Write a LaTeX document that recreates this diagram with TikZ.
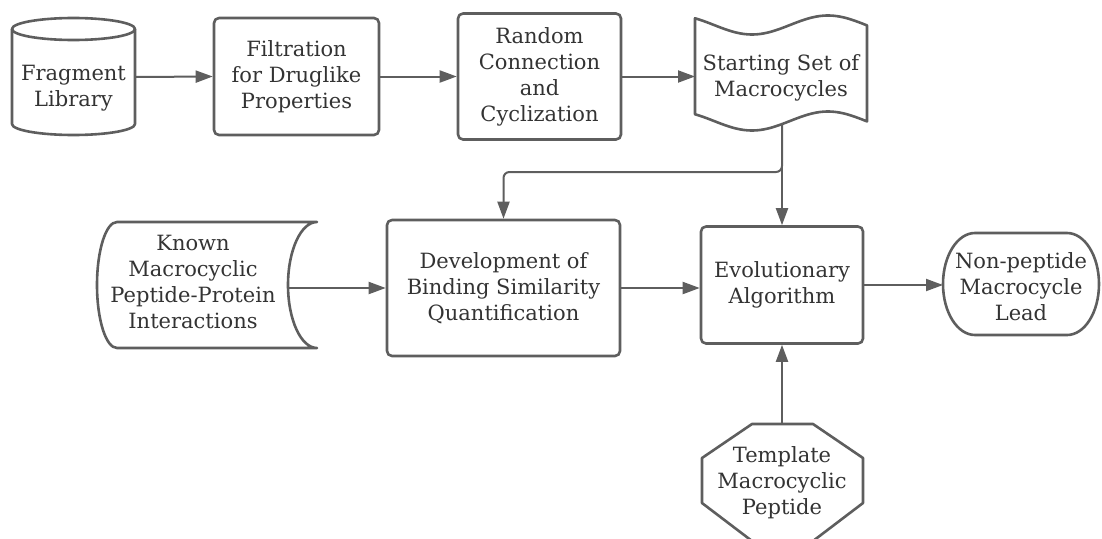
\documentclass[tikz,border=0pt]{standalone}
\usepackage{fontspec}
\setmainfont{DejaVu Serif}
\usetikzlibrary{arrows.meta,calc}
\definecolor{ln}{HTML}{5E5E5E}
\definecolor{tx}{HTML}{333333}
\begin{document}
\begin{tikzpicture}[x=1pt,y=-1pt,
 shp/.style={draw=ln, line width=2.6pt, line join=round},
 box/.style={shp, rounded corners=5pt, inner sep=0pt},
 lbl/.style={text=tx, align=center, font=\fontsize{21}{26}\selectfont},
 conn/.style={draw=ln, line width=2pt, -{Triangle[length=17pt,width=12pt]}}]
\useasboundingbox (0,0) rectangle (1102,538);
% cylinder
\draw[shp] (12,29) -- (12,124) arc[start angle=180,end angle=360,x radius=61.5pt,y radius=11pt] -- (135,29);
\draw[shp] (73.5,29) ellipse[x radius=61.5pt,y radius=11pt];
\node[lbl] (frag) at (73.5,88) {Fragment\\Library};
\coordinate (fragE) at (135,77);
% boxes
\node[box,lbl,minimum width=165pt,minimum height=117pt] (filt) at (296.5,76.5) {Filtration\\for Druglike\\Properties};
\node[box,lbl,minimum width=163pt,minimum height=126pt] (rand) at (539.5,76.5) {Random\\Connection\\and\\Cyclization};
% tape
\draw[shp] plot[domain=695:867,samples=60] (\x,{25+9.5*cos(2.368421*(\x-752))}) -- plot[domain=867:695,samples=60] (\x,{121+9.5*cos(2.368421*(\x-752))}) -- cycle;
\node[lbl] (start) at (781,78) {Starting Set of\\Macrocycles};
\coordinate (docW) at (695,76.5);
\coordinate (docB) at (782,124);
\coordinate (jn) at (782,172);
% known
\draw[shp] (117,222) arc[start angle=90,end angle=270,x radius=20pt,y radius=63pt] -- (317,348) arc[start angle=270,end angle=90,x radius=29pt,y radius=63pt] -- cycle;
\node[lbl] (known) at (193,282) {Known\\Macrocyclic\\Peptide-Protein\\Interactions};
\coordinate (knownE) at (288,288);
\node[box,lbl,minimum width=233pt,minimum height=136pt] (dev) at (503.5,288) {Development of\\Binding Similarity\\Quantification};
\node[box,lbl,minimum width=162pt,minimum height=117pt] (evo) at (782,285) {Evolutionary\\Algorithm};
% terminal
\draw[shp] (975,233) -- (1067,233) arc[start angle=90,end angle=-90,x radius=32pt,y radius=51pt] -- (975,335) arc[start angle=270,end angle=90,x radius=32pt,y radius=51pt] -- cycle;
\node[lbl] (term) at (1021,287) {Non-peptide\\Macrocycle\\Lead};
\coordinate (termW) at (943,285);
% octagon
\draw[shp] (752,424) -- (813,424) -- (863,458) -- (863,503) -- (813,541) -- (752,541) -- (702,503) -- (702,458) -- cycle;
\node[lbl] (tmpl) at (782,483) {Template\\Macrocyclic\\Peptide};
\coordinate (tmplN) at (782,424);
% connectors
\draw[conn] (fragE) -- (filt.west);
\draw[conn] (filt.east) -- (filt.east -| rand.west);
\draw[conn] (rand.east) -- (docW);
\draw[conn,rounded corners=6pt] (docB) -- (jn) -| (dev.north);
\draw[conn] (docB) -- (evo.north);
\draw[conn] (knownE) -- (knownE -| dev.west);
\draw[conn] (dev.east) -- (dev.east -| evo.west);
\draw[conn] (evo.east) -- (termW);
\draw[conn] (tmplN) -- (evo.south);
\end{tikzpicture}
\end{document}
